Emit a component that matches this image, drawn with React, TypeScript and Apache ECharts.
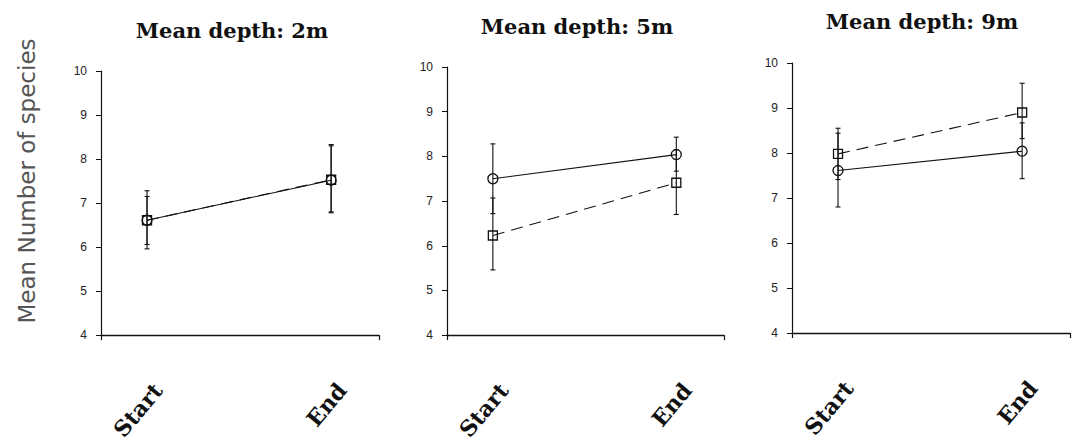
import React, { useEffect, useRef } from "react";
import * as echarts from "echarts";

const categories = ["Start", "End"];
const panelTitles = ["Mean depth: 2m", "Mean depth: 5m", "Mean depth: 9m"];
const yAxisTitle = "Mean Number of species";

// panel 2m
const circle2m = [6.61, 7.52];
const circle2mErr = [[6.06, 7.15], [6.8, 8.3]];
const square2m = [6.61, 7.53];
const square2mErr = [[5.96, 7.28], [6.78, 8.33]];
// panel 5m
const circle5m = [7.5, 8.04];
const circle5mErr = [[6.72, 8.28], [7.67, 8.43]];
const square5m = [6.23, 7.41];
const square5mErr = [[5.46, 7.07], [6.7, 8.15]];
// panel 9m
const circle9m = [7.61, 8.04];
const circle9mErr = [[6.8, 8.44], [7.43, 8.67]];
const square9m = [7.98, 8.9];
const square9mErr = [[7.41, 8.55], [8.32, 9.55]];

const yTicks = [4, 5, 6, 7, 8, 9, 10];

const panels = [
  { title: panelTitles[0], circle: circle2m, circleErr: circle2mErr, square: square2m, squareErr: square2mErr },
  { title: panelTitles[1], circle: circle5m, circleErr: circle5mErr, square: square5m, squareErr: square5mErr },
  { title: panelTitles[2], circle: circle9m, circleErr: circle9mErr, square: square9m, squareErr: square9mErr },
];

const grids = [
  { left: 101, top: 71, width: 278, height: 270 },
  { left: 447, top: 67, width: 277, height: 271 },
  { left: 792, top: 63, width: 278, height: 270 },
];
const titlePos = [
  [232, 30],
  [577, 26],
  [922, 21],
];

const INK = "#111";

function errorRender(params: any, api: any) {
  const x = api.value(0);
  const lo = api.value(1);
  const hi = api.value(2);
  const pTop = api.coord([x, hi]);
  const pBot = api.coord([x, lo]);
  const cap = 2.5;
  const st = { stroke: INK, lineWidth: 1.1 };
  return {
    type: "group",
    children: [
      { type: "line", shape: { x1: pTop[0], y1: pTop[1], x2: pBot[0], y2: pBot[1] }, style: st },
      { type: "line", shape: { x1: pTop[0] - cap, y1: pTop[1], x2: pTop[0] + cap, y2: pTop[1] }, style: st },
      { type: "line", shape: { x1: pBot[0] - cap, y1: pBot[1], x2: pBot[0] + cap, y2: pBot[1] }, style: st },
    ],
  };
}

export default function App() {
  const ref = useRef<HTMLDivElement>(null);
  useEffect(() => {
    if (!ref.current) return;
    const chart = echarts.init(ref.current, undefined, { renderer: "svg" });
    const series: any[] = [];
    panels.forEach((p, i) => {
      const errs = [p.circleErr, p.squareErr];
      errs.forEach((e) => {
        series.push({
          type: "custom",
          xAxisIndex: i,
          yAxisIndex: i,
          renderItem: errorRender,
          data: e.map((r, k) => [k + 1, r[0], r[1]]),
          z: 2,
          silent: true,
        });
      });
      series.push({
        type: "line",
        xAxisIndex: i,
        yAxisIndex: i,
        data: p.square.map((v, k) => [k + 1, v]),
        symbol: "rect",
        symbolSize: 9,
        lineStyle: { color: INK, width: 1.1, type: [12, 7] },
        itemStyle: { color: "rgba(255,255,255,0)", borderColor: INK, borderWidth: 1.3 },
        z: 3,
      });
      series.push({
        type: "line",
        xAxisIndex: i,
        yAxisIndex: i,
        data: p.circle.map((v, k) => [k + 1, v]),
        symbol: "circle",
        symbolSize: 10,
        lineStyle: { color: INK, width: 1.1, type: "solid" },
        itemStyle: { color: "rgba(255,255,255,0)", borderColor: INK, borderWidth: 1.3 },
        z: 4,
      });
    });

    const graphic: any[] = panels.map((p, i) => ({
      type: "text",
      x: titlePos[i][0],
      y: titlePos[i][1],
      style: {
        text: p.title,
        fill: INK,
        font: "bold 21px 'DejaVu Serif', serif",
        textAlign: "center",
        textVerticalAlign: "middle",
      },
    }));
    graphic.push({
      type: "text",
      x: 27,
      y: 181,
      rotation: Math.PI / 2,
      style: {
        text: yAxisTitle,
        fill: "#555",
        font: "normal 23px 'DejaVu Sans', sans-serif",
        textAlign: "center",
        textVerticalAlign: "middle",
      },
    });

    chart.setOption({
      animation: false,
      backgroundColor: "#ffffff",
      grid: grids.map((g) => ({ ...g, containLabel: false })),
      xAxis: grids.map((_, i) => ({
        type: "value",
        gridIndex: i,
        min: 0.75,
        max: 2.26,
        splitLine: { show: false },
        axisLine: { show: true, onZero: false, lineStyle: { color: INK, width: 1.4 } },
        axisTick: { show: true, customValues: [0.75, 2.26], length: 5, lineStyle: { color: INK, width: 1.2 } },
        axisLabel: {
          show: true,
          customValues: [1, 2],
          formatter: (v: number) => categories[Math.round(v) - 1] ?? "",
          rotate: 50,
          margin: 42,
          verticalAlign: "top",
          lineHeight: 28,
          color: INK,
          fontFamily: "'DejaVu Serif', serif",
          fontWeight: "bold",
          fontSize: 22,
        },
      })),
      yAxis: grids.map((_, i) => ({
        type: "value",
        gridIndex: i,
        min: yTicks[0],
        max: yTicks[yTicks.length - 1],
        interval: 1,
        splitLine: { show: false },
        axisLine: { show: true, onZero: false, lineStyle: { color: INK, width: 1.2 } },
        axisTick: { show: true, length: 5, lineStyle: { color: INK, width: 1 } },
        axisLabel: {
          color: "#222",
          fontFamily: "'Liberation Sans', Arial, sans-serif",
          fontSize: 12,
          margin: 14,
        },
      })),
      graphic,
      series,
    });
    return () => chart.dispose();
  }, []);
  return (
    <div
      ref={ref}
      style={{ position: "fixed", left: 0, top: 0, width: 1072, height: 445, background: "#fff" }}
    />
  );
}
